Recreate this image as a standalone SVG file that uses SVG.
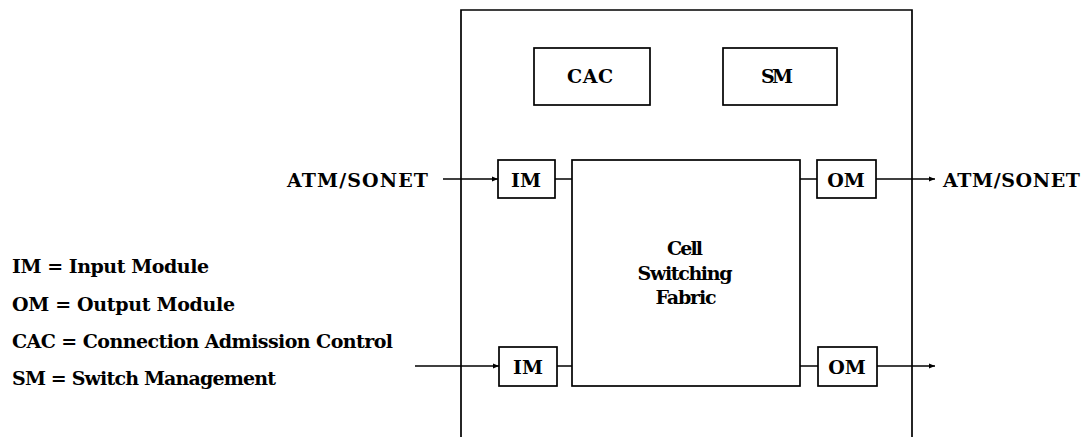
<svg xmlns="http://www.w3.org/2000/svg" width="1087" height="439" viewBox="0 0 1087 439">
<style>
.b{fill:none;stroke:#000;stroke-width:1.7}
.l{fill:none;stroke:#000;stroke-width:1.5}
text{font-family:"DejaVu Serif","Liberation Serif",serif;font-weight:bold;fill:#000;font-size:19px}
.c{text-anchor:middle}
</style>
<defs>
<marker id="ah" viewBox="0 0 10 10" refX="10" refY="5" markerWidth="8" markerHeight="6" markerUnits="userSpaceOnUse" orient="auto">
<path d="M0,1 L10,5 L0,9 Z" fill="#000"/>
</marker>
</defs>
<g id="switch-frame">
<path class="b" d="M461,437 L461,10 L912,10 L912,437"/>
</g>
<g id="cac"><rect class="b" x="534" y="48" width="116" height="57"/><text class="c" x="590" y="83" textLength="46">CAC</text></g>
<g id="sm"><rect class="b" x="723" y="48" width="114" height="57"/><text class="c" x="777" y="83" textLength="32">SM</text></g>
<g id="im-top"><rect class="b" x="498" y="160" width="57" height="38"/><text class="c" x="526" y="187">IM</text></g>
<g id="om-top"><rect class="b" x="817" y="160" width="59" height="38"/><text class="c" x="846" y="187" font-size="20">OM</text></g>
<g id="im-bottom"><rect class="b" x="499" y="347" width="58" height="39"/><text class="c" x="528" y="374">IM</text></g>
<g id="om-bottom"><rect class="b" x="818" y="347" width="59" height="39"/><text class="c" x="847" y="374" font-size="20">OM</text></g>
<g id="fabric"><rect class="b" x="572" y="160" width="228" height="226"/>
<text class="c" x="685" y="255" font-size="17" textLength="36">Cell</text>
<text class="c" x="685" y="280" font-size="17" textLength="95">Switching</text>
<text class="c" x="686" y="304" font-size="17" textLength="61">Fabric</text>
</g>
<g id="connectors">
<line class="l" x1="443" y1="179" x2="498" y2="179" marker-end="url(#ah)"/>
<line class="l" x1="555" y1="179" x2="572" y2="179"/>
<line class="l" x1="800" y1="179" x2="817" y2="179"/>
<line class="l" x1="876" y1="179" x2="935" y2="179" marker-end="url(#ah)"/>
<line class="l" x1="415" y1="366" x2="499" y2="366" marker-end="url(#ah)"/>
<line class="l" x1="557" y1="366" x2="572" y2="366"/>
<line class="l" x1="800" y1="366" x2="818" y2="366"/>
<line class="l" x1="877" y1="366" x2="935" y2="366" marker-end="url(#ah)"/>
</g>
<g id="labels">
<text x="287" y="187" textLength="141">ATM/SONET</text>
<text x="943" y="187" textLength="137">ATM/SONET</text>
</g>
<g id="legend">
<text x="12" y="273" textLength="197">IM = Input Module</text>
<text x="12" y="311" textLength="223">OM = Output Module</text>
<text x="12" y="348" textLength="381">CAC = Connection Admission Control</text>
<text x="12" y="385" textLength="264">SM = Switch Management</text>
</g>
</svg>
